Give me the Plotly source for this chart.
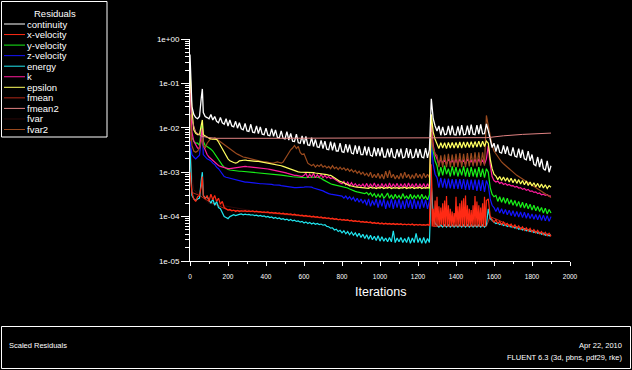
import plotly.graph_objects as go

# ---------------- data ----------------
MAIN_ITER = [0, 5, 10, 20, 30, 40, 50, 60, 65, 70, 80, 90] + list(range(100, 1901, 10))
RED_ITER = ([0, 5, 10, 20, 30, 40, 50, 60, 65, 70, 80, 90] + list(range(100, 1261, 10))
            + list(range(1270, 1561, 5)) + list(range(1570, 1901, 10)))

continuity = [
    0.45, 0.1, 0.03, 0.02, 0.017, 0.016, 0.018, 0.05, 0.075, 0.022, 0.018, 0.017,
    0.016, 0.02, 0.015, 0.018, 0.014, 0.013, 0.017, 0.013, 0.012, 0.016,
    0.011, 0.015, 0.011, 0.0105, 0.014, 0.0098, 0.013, 0.0095, 0.009, 0.0125,
    0.0085, 0.0083, 0.012, 0.008, 0.0078, 0.011, 0.0074, 0.0105, 0.0072, 0.007,
    0.0098, 0.0068, 0.0066, 0.0095, 0.0064, 0.009, 0.0061, 0.006, 0.0085, 0.0058,
    0.0056, 0.0082, 0.0053, 0.0075, 0.005, 0.0049, 0.0072, 0.0046, 0.0045, 0.0066,
    0.0043, 0.0064, 0.0041, 0.004, 0.006, 0.0038, 0.0055, 0.0037, 0.0036, 0.0052,
    0.0034, 0.005, 0.0033, 0.0032, 0.0049, 0.0031, 0.0046, 0.003, 0.003, 0.0045,
    0.0029, 0.0028, 0.0043, 0.0028, 0.0042, 0.0027, 0.0026, 0.004, 0.0026, 0.0039,
    0.0025, 0.0025, 0.0038, 0.0024, 0.0037, 0.0024, 0.0023, 0.0036, 0.0023, 0.0035,
    0.0023, 0.0036, 0.0022, 0.0022, 0.0034, 0.0022, 0.0035, 0.0022, 0.0021, 0.0033,
    0.0022, 0.0034, 0.0021, 0.0022, 0.0035, 0.0021, 0.0033, 0.0021, 0.0022, 0.0034,
    0.0021, 0.0033, 0.0022, 0.0021, 0.0035, 0.0021, 0.0032, 0.045, 0.016, 0.011,
    0.0085, 0.011, 0.0068, 0.0105, 0.007, 0.0072, 0.011, 0.0068, 0.0112, 0.007,
    0.0069, 0.0108, 0.0068, 0.0115, 0.007, 0.0071, 0.0112, 0.0069, 0.0118, 0.0072,
    0.007, 0.0115, 0.0072, 0.012, 0.0073, 0.0074, 0.0122, 0.0085, 0.005, 0.0036,
    0.0045, 0.0029, 0.0042, 0.0028, 0.0027, 0.004, 0.0026, 0.0038, 0.0025, 0.0024,
    0.0036, 0.0023, 0.0022, 0.0034, 0.0021, 0.0032, 0.002, 0.0019, 0.003, 0.0018,
    0.0025, 0.0015, 0.0014, 0.0022, 0.0013, 0.002, 0.0012, 0.0011, 0.0018, 0.001,
    0.0014]

x_velocity = [
    1e-3, 5e-4, 3.5e-4, 2.5e-4, 2.2e-4, 2.8e-4, 3e-4, 5e-4, 8e-4, 3e-4, 2.5e-4, 3e-4,
    2.2e-4, 3.2e-4, 2.4e-4, 3e-4, 2.2e-4, 2.6e-4, 1.9e-4, 2.2e-4, 1.6e-4, 1.5e-4,
    1.4e-4, 1.45e-4, 1.35e-4, 1.4e-4, 1.3e-4, 1.38e-4, 1.3e-4, 1.35e-4, 1.32e-4, 1.36e-4,
    1.3e-4, 1.34e-4, 1.3e-4, 1.35e-4, 1.28e-4, 1.32e-4, 1.28e-4, 1.3e-4, 1.25e-4, 1.28e-4,
    1.24e-4, 1.27e-4, 1.22e-4, 1.25e-4, 1.2e-4, 1.23e-4, 1.18e-4, 1.21e-4, 1.16e-4, 1.19e-4,
    1.14e-4, 1.17e-4, 1.12e-4, 1.15e-4, 1.1e-4, 1.13e-4, 1.08e-4, 1.1e-4, 1.05e-4, 1.08e-4,
    1.03e-4, 1.06e-4, 1.01e-4, 1.04e-4, 9.9e-5, 1.02e-4, 9.7e-5, 1e-4, 9.5e-5, 9.8e-5,
    9.3e-5, 9.6e-5, 9.1e-5, 9.4e-5, 8.9e-5, 9.2e-5, 8.7e-5, 9e-5, 8.5e-5, 8.8e-5,
    8.3e-5, 8.6e-5, 8.2e-5, 8.5e-5, 8e-5, 8.3e-5, 7.8e-5, 8.1e-5, 7.7e-5, 8e-5,
    7.5e-5, 7.8e-5, 7.4e-5, 7.7e-5, 7.3e-5, 7.6e-5, 7.1e-5, 7.4e-5, 7e-5, 7.3e-5,
    6.9e-5, 7.2e-5, 6.8e-5, 7.1e-5, 6.8e-5, 7e-5, 6.7e-5, 7e-5, 6.6e-5, 6.9e-5,
    6.6e-5, 6.9e-5, 6.5e-5, 6.8e-5, 6.5e-5, 6.8e-5, 6.5e-5, 6.8e-5, 6.4e-5, 6.7e-5,
    6.4e-5, 6.7e-5, 6.4e-5, 6.6e-5, 6.4e-5, 6.7e-5, 6.4e-5,
    # 1270 .. 1560 every 5 iterations
    1.5e-3, 6e-5, 1.5e-4, 6e-5, 2.3e-4, 6e-5, 2.8e-4, 6e-5, 1.7e-4, 6e-5,
    1.6e-4, 6.5e-5, 2e-4, 6e-5, 2.3e-4, 6e-5, 2.9e-4, 6e-5, 1.8e-4, 6e-5,
    1.5e-4, 6e-5, 1.3e-4, 6e-5, 1.2e-4, 6e-5, 2.8e-4, 6e-5, 1.7e-4, 6e-5,
    2e-4, 6e-5, 2.3e-4, 6e-5, 2.6e-4, 6e-5, 3e-4, 6e-5, 1.8e-4, 6e-5,
    1.5e-4, 6e-5, 1.4e-4, 6e-5, 1.8e-4, 6e-5, 2.9e-4, 6e-5, 2.2e-4, 6e-5,
    1.8e-4, 6e-5, 1.6e-4, 6e-5, 2e-4, 6e-5, 2.8e-4, 6e-5, 2.3e-4,
    # 1570 .. 1900
    2.5e-4, 1e-4, 8.5e-5,
    7.5e-5, 8.5e-5, 7e-5, 7.8e-5, 6.6e-5, 7.5e-5, 6.3e-5, 7e-5, 6e-5, 6.8e-5,
    5.7e-5, 6.5e-5, 5.4e-5, 6.2e-5, 5.2e-5, 5.9e-5, 4.9e-5, 5.6e-5, 4.7e-5, 5.4e-5,
    4.5e-5, 5.1e-5, 4.3e-5, 4.9e-5, 4.1e-5, 4.6e-5, 3.9e-5, 4.4e-5, 3.7e-5, 4.2e-5,
    3.6e-5]

y_velocity = [
    0.02, 8e-3, 6e-3, 5e-3, 4.5e-3, 4.5e-3, 4e-3, 0.01, 0.012, 5e-3, 4e-3, 3.8e-3,
    3.6e-3, 3.3e-3, 3e-3, 2.6e-3, 2.2e-3, 1.9e-3, 1.6e-3, 1.45e-3, 1.3e-3, 1.2e-3,
    1.15e-3, 1.12e-3, 1.1e-3, 1.08e-3, 1.06e-3, 1.05e-3, 1.05e-3, 1.05e-3, 1.04e-3, 1.04e-3,
    1.03e-3, 1.02e-3, 1.02e-3, 1.01e-3, 1e-3, 1e-3, 1e-3, 9.9e-4, 9.8e-4, 9.7e-4,
    9.6e-4, 9.5e-4, 9.4e-4, 9.2e-4, 9.1e-4, 9e-4, 8.9e-4, 8.8e-4, 8.6e-4, 8.5e-4,
    8.3e-4, 8.2e-4, 8.1e-4, 8e-4, 7.9e-4, 7.8e-4, 7.7e-4, 7.6e-4, 7.6e-4, 7.5e-4,
    7.5e-4, 7.5e-4, 7.6e-4, 7.7e-4, 7.8e-4, 7.8e-4, 7.8e-4, 7.7e-4, 7.6e-4, 7.3e-4,
    6.8e-4, 6.4e-4, 6e-4, 5.7e-4, 5.5e-4, 5.3e-4, 5.2e-4, 5.1e-4, 5e-4, 4.9e-4,
    4.8e-4, 4.7e-4, 4.5e-4, 4.4e-4, 4.2e-4, 4e-4, 3.8e-4, 3.7e-4, 3.6e-4, 3.55e-4,
    3.5e-4, 3.4e-4, 3.3e-4, 3.5e-4, 3.1e-4, 3.4e-4, 2.9e-4, 3.3e-4, 2.7e-4, 3.2e-4,
    2.7e-4, 3.3e-4, 2.6e-4, 2.9e-4, 3.4e-4, 2.6e-4, 3.1e-4, 2.5e-4, 3.2e-4, 2.6e-4,
    3e-4, 2.5e-4, 3.3e-4, 2.6e-4, 2.9e-4, 2.5e-4, 3.2e-4, 2.5e-4, 3e-4, 2.6e-4,
    3.1e-4, 2.5e-4, 3.2e-4, 2.5e-4, 2.9e-4, 2.4e-4, 3.1e-4, 0.01, 3e-3, 1.8e-3,
    1.4e-3, 8e-4, 1.3e-3, 8.5e-4, 1.4e-3, 9e-4, 1.2e-3, 8e-4, 1.35e-3, 8.5e-4,
    1.3e-3, 8e-4, 1.2e-3, 8.5e-4, 1.35e-3, 8e-4, 1.25e-3, 7.8e-4, 1.3e-3, 8e-4,
    1.2e-3, 7.6e-4, 1.3e-3, 7.8e-4, 1.2e-3, 7.5e-4, 1.2e-3, 1e-3, 4.5e-4, 3.2e-4,
    2.8e-4, 3e-4, 2.2e-4, 2.8e-4, 2.1e-4, 2.7e-4, 2e-4, 2.6e-4, 1.9e-4, 2.4e-4,
    1.8e-4, 2.3e-4, 1.7e-4, 2.2e-4, 1.6e-4, 2.1e-4, 1.55e-4, 2e-4, 1.5e-4, 1.9e-4,
    1.4e-4, 1.8e-4, 1.35e-4, 1.7e-4, 1.3e-4, 1.6e-4, 1.2e-4, 1.55e-4, 1.15e-4, 1.45e-4,
    1.2e-4]

z_velocity = [
    5e-3, 3e-3, 2.5e-3, 2.2e-3, 2e-3, 2.2e-3, 2.4e-3, 6e-3, 7.5e-3, 2.5e-3, 2.2e-3, 2e-3,
    1.9e-3, 1.8e-3, 1.6e-3, 1.5e-3, 1.3e-3, 1.2e-3, 1.05e-3, 9e-4, 8e-4, 7.7e-4,
    7.5e-4, 7.2e-4, 7e-4, 6.8e-4, 6.6e-4, 6.5e-4, 6.3e-4, 6.2e-4, 6.1e-4, 6e-4,
    6e-4, 5.9e-4, 5.8e-4, 5.8e-4, 5.7e-4, 5.6e-4, 5.6e-4, 5.5e-4, 5.5e-4, 5.5e-4,
    5.5e-4, 5.4e-4, 5.4e-4, 5.3e-4, 5.2e-4, 5.2e-4, 5.1e-4, 5.1e-4, 5e-4, 4.9e-4,
    4.8e-4, 4.8e-4, 4.7e-4, 4.6e-4, 4.6e-4, 4.5e-4, 4.5e-4, 4.5e-4, 4.5e-4, 4.5e-4,
    4.6e-4, 4.7e-4, 4.7e-4, 4.6e-4, 4.6e-4, 4.4e-4, 4.3e-4, 4.2e-4, 4.1e-4, 4e-4,
    3.8e-4, 3.6e-4, 3.4e-4, 3.3e-4, 3.2e-4, 3.15e-4, 3.1e-4, 3.05e-4, 3e-4, 2.95e-4,
    2.9e-4, 2.6e-4, 2.9e-4, 2.5e-4, 2.8e-4, 2.4e-4, 2.7e-4, 2.2e-4, 2.6e-4, 2.1e-4,
    2.5e-4, 2e-4, 2.4e-4, 1.8e-4, 2.5e-4, 1.7e-4, 2.3e-4, 1.8e-4, 2.5e-4, 1.6e-4,
    2.4e-4, 1.7e-4, 2.5e-4, 1.5e-4, 2.3e-4, 1.6e-4, 2.5e-4, 1.5e-4, 2.4e-4, 1.6e-4,
    2.5e-4, 1.5e-4, 2.3e-4, 1.5e-4, 2.5e-4, 1.6e-4, 2.4e-4, 1.5e-4, 2.5e-4, 1.5e-4,
    2.3e-4, 1.5e-4, 2.5e-4, 1.6e-4, 2.4e-4, 1.5e-4, 2.3e-4, 5e-3, 1.5e-3, 9e-4,
    7.5e-4, 4.5e-4, 7.5e-4, 4.5e-4, 7.2e-4, 4.3e-4, 7.2e-4, 4.3e-4, 7e-4, 4.2e-4,
    7e-4, 4.2e-4, 7e-4, 4.2e-4, 7e-4, 4e-4, 6.8e-4, 4e-4, 6.8e-4, 4e-4,
    6.8e-4, 3.8e-4, 6.8e-4, 3.8e-4, 6.6e-4, 3.6e-4, 6.5e-4, 5e-4, 2.5e-4, 1.8e-4,
    1.6e-4, 1.3e-4, 1.6e-4, 1.2e-4, 1.5e-4, 1.15e-4, 1.45e-4, 1.1e-4, 1.4e-4, 1.05e-4,
    1.35e-4, 1e-4, 1.3e-4, 9.8e-5, 1.28e-4, 9.5e-5, 1.25e-4, 9.2e-5, 1.2e-4, 9e-5,
    1.15e-4, 8.7e-5, 1.12e-4, 8.5e-5, 1.1e-4, 8.2e-5, 1.08e-4, 8e-5, 1.05e-4, 7.8e-5,
    1e-4]

energy = [
    3.5e-3, 8e-4, 3e-4, 2.5e-4, 2.3e-4, 2.5e-4, 2.6e-4, 7e-4, 1e-3, 3e-4, 2.6e-4, 2.8e-4,
    2.4e-4, 2e-4, 2.5e-4, 1.8e-4, 2.2e-4, 1.6e-4, 1.5e-4, 1.2e-4, 1e-4, 9.5e-5,
    9e-5, 1e-4, 1.05e-4, 1.1e-4, 1.05e-4, 1.1e-4, 1.12e-4, 1.15e-4, 1.1e-4, 1.13e-4,
    1.1e-4, 1.12e-4, 1.08e-4, 1.1e-4, 1.05e-4, 1.08e-4, 1.03e-4, 1.06e-4, 1.01e-4, 1.04e-4,
    9.8e-5, 1.01e-4, 9.5e-5, 9.8e-5, 9.2e-5, 9.6e-5, 9e-5, 9.3e-5, 8.7e-5, 9e-5,
    8.5e-5, 8.8e-5, 8.2e-5, 8.6e-5, 8e-5, 8.3e-5, 7.8e-5, 8e-5, 7.5e-5, 7.8e-5,
    7.2e-5, 7.6e-5, 7e-5, 7.4e-5, 6.8e-5, 7.2e-5, 6.7e-5, 7e-5, 6.6e-5, 6.8e-5,
    6.4e-5, 6.6e-5, 6e-5, 5.9e-5, 5.5e-5, 5.6e-5, 5e-5, 5.2e-5, 4.6e-5, 4.9e-5,
    4.3e-5, 4.8e-5, 4.1e-5, 4.6e-5, 3.9e-5, 4.5e-5, 3.8e-5, 4.3e-5, 3.6e-5, 4.2e-5,
    3.4e-5, 4e-5, 3.2e-5, 3.9e-5, 3.1e-5, 3.8e-5, 3e-5, 3.6e-5, 2.9e-5, 3.7e-5,
    2.8e-5, 3.5e-5, 2.8e-5, 3.3e-5, 2.7e-5, 3.4e-5, 2.7e-5, 4.8e-5, 2.6e-5, 3.3e-5,
    2.7e-5, 3.4e-5, 2.6e-5, 3.2e-5, 2.6e-5, 3.5e-5, 2.5e-5, 3.3e-5, 2.6e-5, 4.2e-5,
    2.6e-5, 3.3e-5, 2.5e-5, 3.4e-5, 2.5e-5, 3.2e-5, 2.6e-5, 5e-4, 1e-4, 7e-5,
    6.5e-5, 5.8e-5, 6.5e-5, 5.8e-5, 6.5e-5, 5.8e-5, 6.5e-5, 5.8e-5, 6.5e-5, 5.8e-5,
    6.5e-5, 5.8e-5, 6.5e-5, 5.8e-5, 6.5e-5, 5.8e-5, 6.5e-5, 5.8e-5, 6.5e-5, 5.8e-5,
    6.5e-5, 5.8e-5, 6.5e-5, 5.8e-5, 6.5e-5, 5.8e-5, 6.5e-5, 1.5e-4, 9e-5, 8e-5,
    7.5e-5, 7e-5, 7.2e-5, 6.6e-5, 6.9e-5, 6.3e-5, 6.6e-5, 6e-5, 6.3e-5, 5.8e-5,
    6e-5, 5.5e-5, 5.8e-5, 5.2e-5, 5.5e-5, 5e-5, 5.3e-5, 4.8e-5, 5e-5, 4.6e-5,
    4.8e-5, 4.4e-5, 4.6e-5, 4.2e-5, 4.4e-5, 4e-5, 4.2e-5, 3.8e-5, 4e-5, 3.7e-5,
    3.9e-5]

k = [
    0.1, 0.02, 8e-3, 5e-3, 4e-3, 3.5e-3, 3.5e-3, 8e-3, 0.01, 4e-3, 3e-3, 2.5e-3,
    2.2e-3, 2e-3, 1.8e-3, 1.65e-3, 1.5e-3, 1.42e-3, 1.35e-3, 1.3e-3, 1.25e-3, 1.22e-3,
    1.2e-3, 1.2e-3, 1.22e-3, 1.25e-3, 1.27e-3, 1.3e-3, 1.32e-3, 1.34e-3, 1.35e-3, 1.35e-3,
    1.33e-3, 1.32e-3, 1.3e-3, 1.3e-3, 1.28e-3, 1.26e-3, 1.25e-3, 1.24e-3, 1.22e-3, 1.2e-3,
    1.2e-3, 1.18e-3, 1.16e-3, 1.14e-3, 1.12e-3, 1.1e-3, 1.07e-3, 1.05e-3, 1.02e-3, 1e-3,
    9.8e-4, 9.5e-4, 9.2e-4, 9e-4, 8.8e-4, 8.5e-4, 8.5e-4, 8.3e-4, 8e-4, 8e-4,
    8.5e-4, 9.5e-4, 7.5e-4, 9e-4, 7.8e-4, 9.5e-4, 7.5e-4, 8.8e-4, 7.6e-4, 9e-4,
    7.5e-4, 8.5e-4, 7.4e-4, 8e-4, 7.2e-4, 7.5e-4, 7e-4, 6.5e-4, 6e-4, 5.8e-4,
    5.5e-4, 6.2e-4, 5.2e-4, 6e-4, 5e-4, 5.8e-4, 4.9e-4, 5.5e-4, 4.8e-4, 5.3e-4,
    4.8e-4, 5.4e-4, 4.6e-4, 5.6e-4, 4.5e-4, 5.5e-4, 4.6e-4, 5.7e-4, 4.5e-4, 5.4e-4,
    4.4e-4, 5.6e-4, 4.5e-4, 5.5e-4, 4.4e-4, 5.7e-4, 4.5e-4, 5.5e-4, 4.6e-4, 5.6e-4,
    4.4e-4, 5.5e-4, 4.5e-4, 5.6e-4, 4.4e-4, 5.7e-4, 4.5e-4, 5.5e-4, 4.5e-4, 5.6e-4,
    4.4e-4, 5.5e-4, 4.5e-4, 5.6e-4, 4.4e-4, 5.5e-4, 4.5e-4, 0.012, 4e-3, 2.5e-3,
    2e-3, 1.5e-3, 2e-3, 1.6e-3, 1.9e-3, 1.5e-3, 2e-3, 1.6e-3, 1.9e-3, 1.5e-3,
    2e-3, 1.5e-3, 2e-3, 1.6e-3, 1.9e-3, 1.5e-3, 2e-3, 1.6e-3, 1.9e-3, 1.5e-3,
    2e-3, 1.5e-3, 2e-3, 1.6e-3, 1.9e-3, 1.5e-3, 2e-3, 4e-3, 1.5e-3, 8e-4,
    6.5e-4, 6e-4, 6.3e-4, 5.6e-4, 5.9e-4, 5.3e-4, 5.6e-4, 5.1e-4, 5.3e-4, 4.9e-4,
    5e-4, 4.6e-4, 4.8e-4, 4.4e-4, 4.5e-4, 4.1e-4, 4.3e-4, 3.9e-4, 4.1e-4, 3.7e-4,
    3.8e-4, 3.5e-4, 3.6e-4, 3.3e-4, 3.4e-4, 3.1e-4, 3.2e-4, 3e-4, 3.1e-4, 2.9e-4,
    2.9e-4]

epsilon = [
    0.2, 0.05, 0.025, 9e-3, 7.5e-3, 7e-3, 7e-3, 0.012, 0.015, 7e-3, 6.5e-3, 6e-3,
    5.8e-3, 5.6e-3, 5.5e-3, 5.6e-3, 5.5e-3, 4.8e-3, 4e-3, 3.3e-3, 2.8e-3, 2.4e-3,
    2e-3, 1.8e-3, 1.7e-3, 1.65e-3, 1.6e-3, 1.65e-3, 1.8e-3, 1.85e-3, 1.9e-3, 1.88e-3,
    1.85e-3, 1.82e-3, 1.8e-3, 1.8e-3, 1.78e-3, 1.75e-3, 1.75e-3, 1.72e-3, 1.7e-3, 1.68e-3,
    1.65e-3, 1.62e-3, 1.6e-3, 1.58e-3, 1.55e-3, 1.52e-3, 1.5e-3, 1.45e-3, 1.4e-3, 1.35e-3,
    1.3e-3, 1.25e-3, 1.2e-3, 1.15e-3, 1.1e-3, 1.08e-3, 1.05e-3, 1.02e-3, 1e-3, 1e-3,
    1e-3, 1e-3, 1e-3, 1e-3, 1e-3, 9.8e-4, 9.6e-4, 9.5e-4, 9.5e-4, 9.3e-4,
    9e-4, 8.9e-4, 8.8e-4, 8.6e-4, 8.5e-4, 8e-4, 7.5e-4, 7e-4, 6.5e-4, 6.2e-4,
    6e-4, 5.7e-4, 5.5e-4, 5.2e-4, 5e-4, 4.9e-4, 4.7e-4, 4.65e-4, 4.6e-4, 4.55e-4,
    4.5e-4, 4.6e-4, 4.4e-4, 4.5e-4, 4.3e-4, 4.6e-4, 4.4e-4, 4.5e-4, 4.3e-4, 4.5e-4,
    4.4e-4, 4.6e-4, 4.3e-4, 4.5e-4, 4.4e-4, 4.6e-4, 4.3e-4, 4.5e-4, 4.4e-4, 4.5e-4,
    4.3e-4, 4.5e-4, 4.4e-4, 4.6e-4, 4.3e-4, 4.5e-4, 4.4e-4, 4.6e-4, 4.3e-4, 4.5e-4,
    4.4e-4, 4.6e-4, 4.3e-4, 4.5e-4, 4.4e-4, 4.5e-4, 4.4e-4, 0.02, 8e-3, 5.5e-3,
    4.5e-3, 3.4e-3, 4.6e-3, 3.5e-3, 4.6e-3, 3.4e-3, 4.7e-3, 3.5e-3, 4.7e-3, 3.5e-3,
    4.7e-3, 3.5e-3, 4.8e-3, 3.5e-3, 4.8e-3, 3.6e-3, 4.8e-3, 3.6e-3, 4.9e-3, 3.6e-3,
    4.9e-3, 3.7e-3, 5e-3, 3.7e-3, 5e-3, 3.8e-3, 5e-3, 4.5e-3, 2e-3, 1.2e-3,
    9e-4, 8.2e-4, 6.8e-4, 8e-4, 6.5e-4, 7.8e-4, 6.3e-4, 7.5e-4, 6e-4, 7.3e-4,
    5.8e-4, 7e-4, 5.6e-4, 6.8e-4, 5.4e-4, 6.5e-4, 5.2e-4, 6.3e-4, 5e-4, 6e-4,
    4.9e-4, 5.8e-4, 4.7e-4, 5.6e-4, 4.5e-4, 5.4e-4, 4.4e-4, 5.2e-4, 4.3e-4, 5e-4,
    4.6e-4]

fvar2 = [
    0.02, 8e-3, 4e-3, 3e-3, 2.8e-3, 3e-3, 3.5e-3, 5e-3, 6e-3, 4e-3, 3.5e-3, 4.5e-3,
    5.2e-3, 5.8e-3, 5.5e-3, 6e-3, 5.6e-3, 5.2e-3, 4.8e-3, 4.4e-3, 4.1e-3, 3.8e-3,
    3.6e-3, 3.3e-3, 3e-3, 2.85e-3, 2.7e-3, 2.55e-3, 2.4e-3, 2.3e-3, 2.2e-3, 2.15e-3,
    2.1e-3, 2.05e-3, 2e-3, 1.95e-3, 1.9e-3, 1.85e-3, 1.8e-3, 1.75e-3, 1.7e-3, 1.7e-3,
    1.7e-3, 1.65e-3, 1.6e-3, 1.6e-3, 1.6e-3, 1.65e-3, 1.7e-3, 1.65e-3, 1.6e-3, 1.7e-3,
    2e-3, 2.4e-3, 2.8e-3, 3.2e-3, 3.5e-3, 4e-3, 3.4e-3, 3.8e-3, 2.8e-3, 2.5e-3,
    2.6e-3, 2e-3, 1.6e-3, 1.5e-3, 1.4e-3, 1.5e-3, 1.3e-3, 1.45e-3, 1.35e-3, 1.5e-3,
    1.3e-3, 1.4e-3, 1.25e-3, 1.35e-3, 1.2e-3, 1.4e-3, 1.2e-3, 1.3e-3, 1.15e-3, 1.3e-3,
    1.15e-3, 1.25e-3, 1.1e-3, 1.2e-3, 1.05e-3, 1.15e-3, 1e-3, 1.1e-3, 9.5e-4, 1.05e-3,
    9e-4, 1e-3, 8.5e-4, 9.5e-4, 8e-4, 1e-3, 7.5e-4, 9e-4, 7.5e-4, 9.5e-4,
    7.2e-4, 9e-4, 7e-4, 1.05e-3, 7.5e-4, 1.1e-3, 7.5e-4, 9e-4, 7e-4, 8.5e-4,
    7e-4, 9.5e-4, 7.2e-4, 1e-3, 7.5e-4, 9e-4, 7e-4, 8.8e-4, 7.2e-4, 9.5e-4,
    7.5e-4, 9e-4, 7.2e-4, 9.5e-4, 7.5e-4, 9e-4, 7.5e-4, 8e-3, 3.5e-3, 2.6e-3,
    2.4e-3, 1.3e-3, 2.4e-3, 1.3e-3, 2.5e-3, 1.3e-3, 2.6e-3, 1.3e-3, 2.5e-3, 1.3e-3,
    2.6e-3, 1.3e-3, 2.7e-3, 1.3e-3, 2.6e-3, 1.3e-3, 2.7e-3, 1.35e-3, 2.7e-3, 1.35e-3,
    2.8e-3, 1.35e-3, 2.8e-3, 1.4e-3, 2.8e-3, 1.4e-3, 0.019, 0.011, 6e-3, 4e-3,
    3e-3, 2.6e-3, 2.2e-3, 1.9e-3, 1.7e-3, 1.55e-3, 1.4e-3, 1.3e-3, 1.2e-3, 1.1e-3,
    1e-3, 9.2e-4, 8.5e-4, 8e-4, 7.5e-4, 7e-4, 6.5e-4, 6.1e-4, 5.7e-4, 5.3e-4,
    5e-4, 4.7e-4, 4.4e-4, 4.1e-4, 3.9e-4, 3.6e-4, 3.4e-4, 3.2e-4, 3e-4, 2.85e-4,
    2.7e-4]

FMEAN2_ITER = [0, 10, 30, 60, 100, 140, 400, 800, 1260, 1280, 1560, 1580, 1650, 1750, 1850, 1900]
fmean2 = [0.06, 0.015, 8e-3, 6.5e-3, 6e-3, 5.8e-3, 5.8e-3, 5.8e-3, 5.8e-3, 6e-3, 6e-3, 6.1e-3,
          6.6e-3, 7.1e-3, 7.5e-3, 7.6e-3]

FMEAN_ITER = [0, 10, 50, 100, 200, 400, 600, 800, 1000, 1260, 1270, 1280, 1560, 1580, 1700,
              1800, 1900]
fmean = [8e-3, 3.5e-4, 3e-4, 2.2e-4, 1.4e-4, 1.24e-4, 1.03e-4, 8.3e-5, 6.9e-5, 6.4e-5, 1.2e-3,
         6e-5, 6e-5, 1e-4, 6e-5, 4.8e-5, 3.6e-5]

FVAR_ITER = [0, 20, 100, 400, 1000, 1260, 1280, 1560, 1580, 1900]
fvar = [2e-3, 4e-4, 2e-4, 1.2e-4, 7e-5, 6.5e-5, 1e-4, 1e-4, 8e-5, 4e-5]

LEGEND_NAMES = ["continuity", "x-velocity", "y-velocity", "z-velocity", "energy", "k",
                "epsilon", "fmean", "fmean2", "fvar", "fvar2"]
COLORS = {"continuity": "#ffffff", "x-velocity": "#ff2a14", "y-velocity": "#18f018",
          "z-velocity": "#1414ff", "energy": "#20e6f0", "k": "#ff1c9c",
          "epsilon": "#ffff60", "fmean": "#b02818", "fmean2": "#e08282",
          "fvar": "#2a0808", "fvar2": "#9a4a1e"}

series = {"continuity": (MAIN_ITER, continuity), "x-velocity": (RED_ITER, x_velocity),
          "y-velocity": (MAIN_ITER, y_velocity), "z-velocity": (MAIN_ITER, z_velocity),
          "energy": (MAIN_ITER, energy), "k": (MAIN_ITER, k), "epsilon": (MAIN_ITER, epsilon),
          "fmean": (FMEAN_ITER, fmean), "fmean2": (FMEAN2_ITER, fmean2),
          "fvar": (FVAR_ITER, fvar), "fvar2": (MAIN_ITER, fvar2)}
for nm, (xs, ys) in series.items():
    if len(xs) != len(ys):
        raise ValueError(f"{nm}: {len(ys)} values vs {len(xs)} iterations")

DRAW_ORDER = ["fvar", "fmean", "energy", "x-velocity", "z-velocity", "y-velocity", "k",
              "fvar2", "epsilon", "continuity", "fmean2"]
WIDTHS = {"continuity": 1.3, "fmean2": 1.0, "fvar": 1.0, "fmean": 1.0}

# ---------------- figure ----------------
W, H = 632, 370
L, R, T, B = 190, 62, 39, 109
PW, PH = W - L - R, H - T - B


def px(xp):
    return (xp - L) / PW


def py(yp):
    return (H - B - yp) / PH


fig = go.Figure()
for nm in DRAW_ORDER:
    xs, ys = series[nm]
    fig.add_trace(go.Scatter(x=xs, y=ys, mode="lines", name=nm, showlegend=False,
                             line=dict(color=COLORS[nm], width=WIDTHS.get(nm, 1.2)),
                             hoverinfo="skip"))

TICKVALS = [1e-5, 1e-4, 1e-3, 1e-2, 1e-1, 1]
TICKTEXT = ["1e-05", "1e-04", "1e-03", "1e-02", "1e-01", "1e+00"]
FONT = "Liberation Sans, Arial"

shapes = []
annotations = []

# legend box (drawn by hand to match the compact FLUENT legend)
shapes.append(dict(type="rect", xref="paper", yref="paper", x0=px(1.5), x1=px(107), y0=py(137),
                   y1=py(1.5), line=dict(color="white", width=1), fillcolor="black", layer="above"))
annotations.append(dict(text="Residuals", xref="paper", yref="paper", x=px(55), y=py(13),
                        xanchor="center", yanchor="middle", showarrow=False,
                        font=dict(family=FONT, size=9.5, color="white")))
for i, nm in enumerate(LEGEND_NAMES):
    yy = 24 + i * 10.55
    shapes.append(dict(type="line", xref="paper", yref="paper", x0=px(4), x1=px(25),
                       y0=py(yy), y1=py(yy), line=dict(color=COLORS[nm], width=1), layer="above"))
    annotations.append(dict(text=nm, xref="paper", yref="paper", x=px(25), y=py(yy),
                            xanchor="left", yanchor="middle", showarrow=False,
                            font=dict(family=FONT, size=9.5, color="white")))

# bottom info panel
shapes.append(dict(type="rect", xref="paper", yref="paper", x0=px(1.5), x1=px(630.5), y0=py(368.5),
                   y1=py(326.5), line=dict(color="white", width=1), layer="above"))
annotations.append(dict(text="Scaled Residuals", xref="paper", yref="paper", x=px(7), y=py(345),
                        xanchor="left", yanchor="middle", showarrow=False,
                        font=dict(family=FONT, size=7.5, color="white")))
annotations.append(dict(text="Apr 22, 2010", xref="paper", yref="paper", x=px(624), y=py(345),
                        xanchor="right", yanchor="middle", showarrow=False,
                        font=dict(family=FONT, size=7.5, color="white")))
annotations.append(dict(text="FLUENT 6.3 (3d, pbns, pdf29, rke)", xref="paper", yref="paper",
                        x=px(624), y=py(357), xanchor="right", yanchor="middle", showarrow=False,
                        font=dict(family=FONT, size=7.5, color="white")))
annotations.append(dict(text="Iterations", xref="paper", yref="paper", x=0.5, y=py(292),
                        xanchor="center", yanchor="middle", showarrow=False,
                        font=dict(family=FONT, size=12.5, color="white")))

fig.update_layout(
    width=W, height=H, margin=dict(l=L, r=R, t=T, b=B, pad=0),
    paper_bgcolor="black", plot_bgcolor="black",
    showlegend=False, shapes=shapes, annotations=annotations,
    xaxis=dict(range=[0, 2000], showgrid=False, zeroline=False, showline=True,
               linecolor="white", linewidth=1, ticks="outside", ticklen=4, tickcolor="white",
               tickwidth=1, tickvals=list(range(0, 2001, 200)),
               ticktext=[str(v) for v in range(0, 2001, 200)], ticklabelstandoff=5,
               tickfont=dict(family=FONT, size=6.5, color="white"),
               minor=dict(ticks="outside", ticklen=2, tickcolor="white", dtick=100)),
    yaxis=dict(type="log", range=[-5, 0], showgrid=False, zeroline=False, showline=True,
               linecolor="white", linewidth=1, ticks="outside", ticklen=8, tickcolor="white",
               tickwidth=1, tickvals=TICKVALS, ticktext=TICKTEXT,
               tickfont=dict(family=FONT, size=8, color="white"),
               minor=dict(ticks="outside", ticklen=4, tickcolor="white", dtick="D1")),
)

fig.write_html("out.html")
